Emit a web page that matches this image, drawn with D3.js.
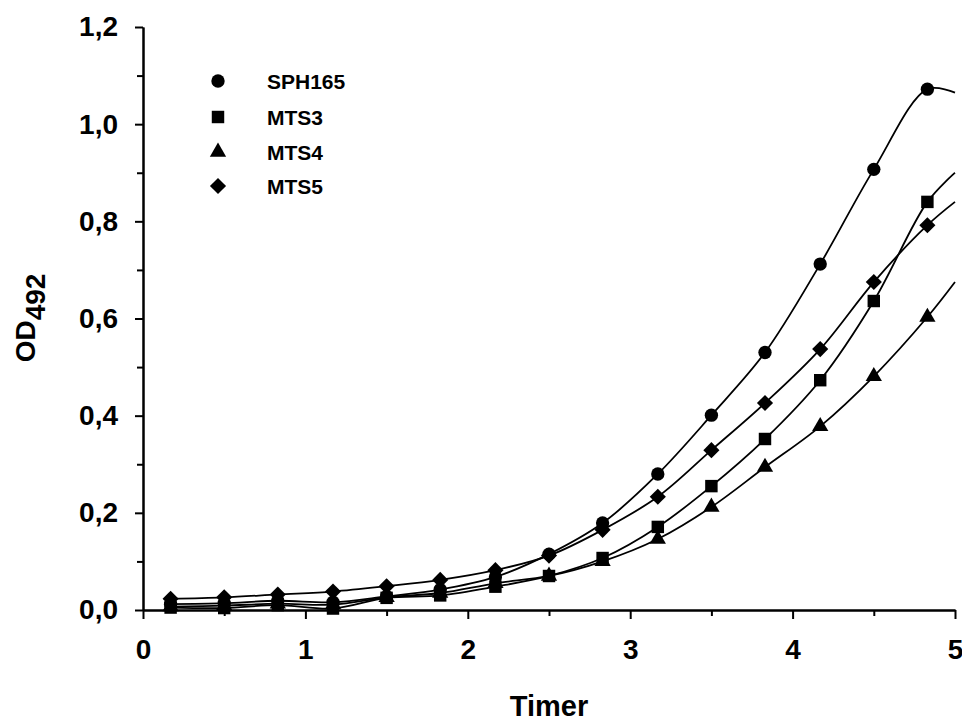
<!DOCTYPE html>
<html>
<head>
<meta charset="utf-8">
<script src="https://cdn.jsdelivr.net/npm/d3@7"></script>
<style>
  body { margin: 0; background: #fff; }
  text { font-family: Arial, "Liberation Sans", sans-serif; font-weight: bold; fill: #000; }
</style>
</head>
<body>
<script>
// time points (hours)
var times = [0.17, 0.5, 0.83, 1.17, 1.5, 1.83, 2.17, 2.5, 2.83, 3.17, 3.5, 3.83, 4.17, 4.5, 4.83];

// OD492 readings per strain
var sph165 = [0.012, 0.014, 0.019, 0.016, 0.028, 0.042, 0.068, 0.115, 0.179, 0.280, 0.401, 0.530, 0.712, 0.907, 1.072];
var mts3   = [0.005, 0.004, 0.010, 0.003, 0.025, 0.030, 0.048, 0.070, 0.107, 0.171, 0.255, 0.352, 0.473, 0.636, 0.840];
var mts4   = [0.007, 0.009, 0.013, 0.011, 0.026, 0.035, 0.055, 0.070, 0.100, 0.146, 0.212, 0.294, 0.378, 0.481, 0.603];
var mts5   = [0.023, 0.026, 0.032, 0.038, 0.049, 0.062, 0.082, 0.112, 0.165, 0.233, 0.329, 0.426, 0.537, 0.675, 0.792];

// where each fitted curve meets the right edge (x = 5)
var curveEnd = [1.065, 0.900, 0.675, 0.840];

var seriesNames = ['SPH165', 'MTS3', 'MTS4', 'MTS5'];
var seriesValues = [sph165, mts3, mts4, mts5];

var xTicks = [0, 1, 2, 3, 4, 5];
var xMinor = [0.5, 1.5, 2.5, 3.5, 4.5];
var yTicks = [0, 0.2, 0.4, 0.6, 0.8, 1.0, 1.2];
var yTickLabels = ['0,0', '0,2', '0,4', '0,6', '0,8', '1,0', '1,2'];
var yMinor = [0.1, 0.3, 0.5, 0.7, 0.9, 1.1];

var W = 962, H = 724;
var mLeft = 143, mRight = 955, mTop = 27, mBottom = 610;

var svg = d3.select('body').append('svg')
    .attr('width', W)
    .attr('height', H);

var x = d3.scaleLinear().domain([0, 5]).range([mLeft, mRight]);
var y = d3.scaleLinear().domain([0, 1.2]).range([mBottom, mTop]);

function styleAxis(g) {
  g.selectAll('.domain').attr('stroke', '#000').attr('stroke-width', 2);
  g.selectAll('.tick line').attr('stroke', '#000').attr('stroke-width', 2);
}

// minor ticks first, then major axes on top
svg.append('g')
    .attr('transform', 'translate(0,' + mBottom + ')')
    .call(d3.axisBottom(x).tickValues(xMinor).tickSize(6).tickSizeOuter(0).tickFormat(''))
    .call(styleAxis);
svg.append('g')
    .attr('transform', 'translate(' + mLeft + ',0)')
    .call(d3.axisLeft(y).tickValues(yMinor).tickSize(6).tickSizeOuter(0).tickFormat(''))
    .call(styleAxis);

var xAxis = svg.append('g')
    .attr('transform', 'translate(0,' + mBottom + ')')
    .call(d3.axisBottom(x).tickValues(xTicks).tickSize(9).tickSizeOuter(0).tickPadding(20).tickFormat(d3.format('d')))
    .call(styleAxis);
xAxis.selectAll('text').attr('font-size', 28).attr('font-family', null);

var yAxis = svg.append('g')
    .attr('transform', 'translate(' + mLeft + ',0)')
    .call(d3.axisLeft(y).tickValues(yTicks).tickSize(8).tickSizeOuter(0).tickPadding(17)
      .tickFormat(function(d, i) { return yTickLabels[i]; }))
    .call(styleAxis);
yAxis.selectAll('text').attr('font-size', 28).attr('font-family', null);

// axis titles
svg.append('text')
    .attr('x', (mLeft + mRight) / 2)
    .attr('y', 716)
    .attr('text-anchor', 'middle')
    .attr('font-size', 29)
    .text('Timer');

var yTitle = svg.append('text')
    .attr('transform', 'translate(35,318) rotate(-90)')
    .attr('text-anchor', 'middle')
    .attr('font-size', 28);
yTitle.append('tspan').text('OD');
yTitle.append('tspan').attr('dy', 10).text('492');

// curves
var line = d3.line()
    .x(function(d) { return x(d[0]); })
    .y(function(d) { return y(d[1]); })
    .curve(d3.curveCatmullRom.alpha(0.5));

seriesValues.forEach(function(vals, i) {
  var pts = times.map(function(t, j) { return [t, vals[j]]; });
  pts.push([5, curveEnd[i]]);
  svg.append('path')
      .attr('d', line(pts))
      .attr('fill', 'none')
      .attr('stroke', '#000')
      .attr('stroke-width', 1.8);
});

// markers
var symbols = [
  d3.symbol().type(d3.symbolCircle).size(140),
  d3.symbol().type(d3.symbolSquare).size(155),
  d3.symbol().type(d3.symbolTriangle).size(115),
  d3.symbol().type(d3.symbolSquare).size(130)
];
var rotations = [0, 0, 0, 45];

seriesValues.forEach(function(vals, i) {
  svg.append('g').selectAll('path')
      .data(vals)
      .enter()
      .append('path')
      .attr('d', symbols[i])
      .attr('transform', function(d, j) {
        return 'translate(' + x(times[j]) + ',' + y(d) + ') rotate(' + rotations[i] + ')';
      })
      .attr('fill', '#000');
});

// legend
var legendY = [81, 117, 152, 186];
var legend = svg.append('g');
seriesNames.forEach(function(name, i) {
  legend.append('path')
      .attr('d', symbols[i])
      .attr('transform', 'translate(218,' + legendY[i] + ') rotate(' + rotations[i] + ')')
      .attr('fill', '#000');
  legend.append('text')
      .attr('x', 267)
      .attr('y', legendY[i])
      .attr('dy', '0.36em')
      .attr('font-size', 21)
      .text(name);
});
</script>
</body>
</html>
